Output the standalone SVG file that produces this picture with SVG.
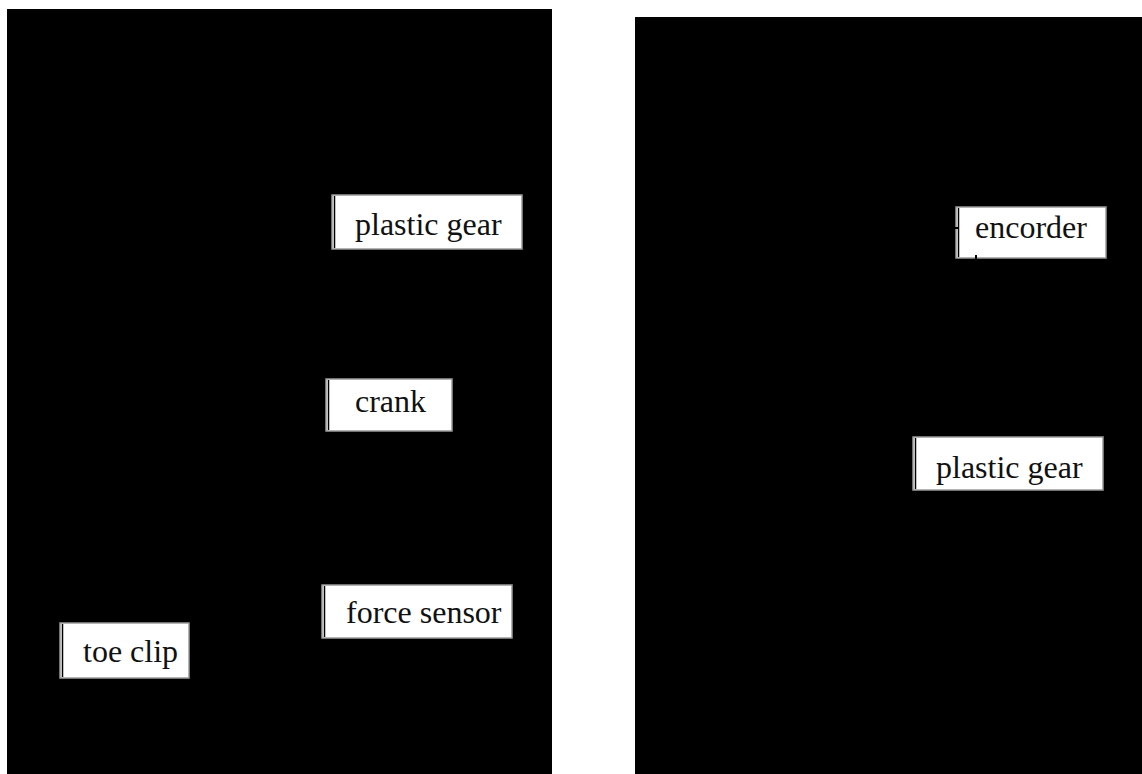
<svg xmlns="http://www.w3.org/2000/svg" width="1142" height="774" viewBox="0 0 1142 774">
<style>
.panel{fill:#000}
.box{fill:#fff;stroke:#9a9a9a;stroke-width:1.5}
.edge{stroke:#000;stroke-width:1.5}
.lbl{font-family:"Liberation Serif","Times New Roman",serif;font-size:32px;fill:#111}
.conn{stroke:#000;stroke-width:2;fill:none}
</style>
<rect width="1142" height="774" fill="#fff"/>
<g id="panel-left"><rect class="panel" x="7" y="9" width="545" height="765"/></g>
<g id="panel-right"><rect class="panel" x="635" y="17" width="507" height="757"/></g>
<g id="node-plastic-gear-1"><rect class="box" x="332" y="195" width="190" height="54"/><line class="edge" x1="334.5" y1="196" x2="334.5" y2="248"/><text class="lbl" x="355" y="235">plastic gear</text></g>
<g id="node-crank"><rect class="box" x="326" y="379" width="126" height="52"/><line class="edge" x1="328.5" y1="380" x2="328.5" y2="430"/><text class="lbl" x="355" y="412">crank</text></g>
<g id="node-force-sensor"><rect class="box" x="322" y="585" width="190" height="53"/><line class="edge" x1="324.5" y1="586" x2="324.5" y2="637"/><text class="lbl" x="346" y="623">force sensor</text></g>
<g id="node-toe-clip"><rect class="box" x="60" y="623" width="129" height="55"/><line class="edge" x1="62.5" y1="624" x2="62.5" y2="677"/><text class="lbl" x="83" y="662">toe clip</text></g>
<g id="node-encorder"><rect class="box" x="956" y="207" width="150" height="51"/><line class="edge" x1="958.5" y1="208" x2="958.5" y2="257"/><text class="lbl" x="975" y="238">encorder</text></g>
<g id="node-plastic-gear-2"><rect class="box" x="913" y="437" width="190" height="53"/><line class="edge" x1="915.5" y1="438" x2="915.5" y2="489"/><text class="lbl" x="936" y="478">plastic gear</text></g>
<g id="connectors">
<line class="conn" x1="900" y1="228" x2="958" y2="228"/>
<line class="conn" x1="976" y1="300" x2="976" y2="255"/>
</g>
</svg>
